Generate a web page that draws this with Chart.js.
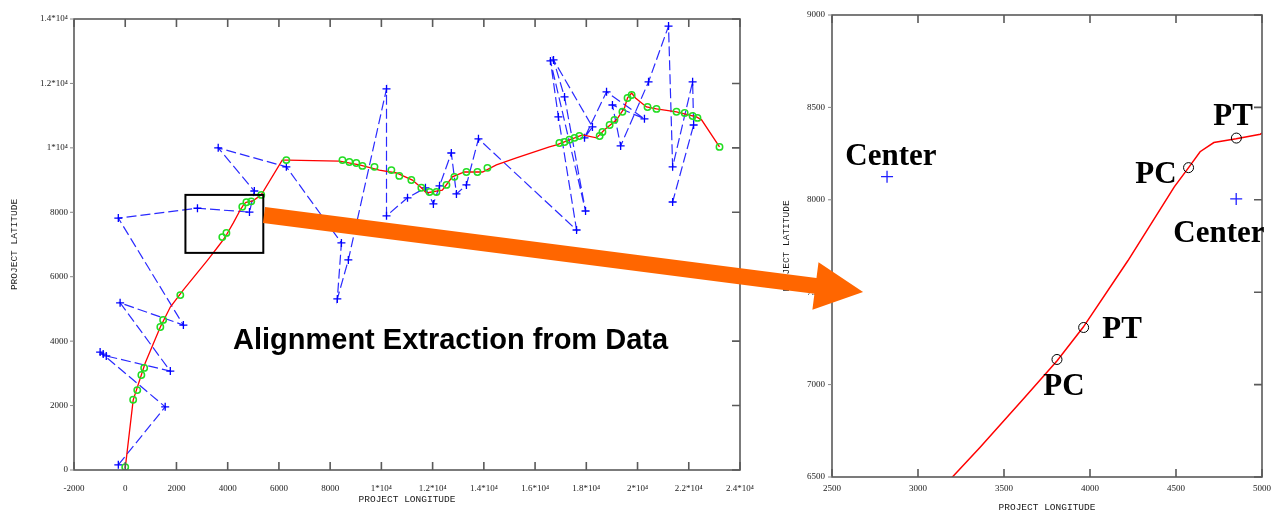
<!DOCTYPE html>
<html>
<head>
<meta charset="utf-8">
<title>Alignment Extraction from Data</title>
<script src="https://cdn.jsdelivr.net/npm/chart.js@4.4.1/dist/chart.umd.min.js"></script>
<style>
  html, body { margin: 0; padding: 0; background: #fff; }
  body { position: relative; width: 1276px; height: 513px; overflow: hidden; }
  #boxAll  { position: absolute; left: 0;     top: 0; }
  #boxZoom { position: absolute; left: 770px; top: 0; }
  #caption {
    position: absolute; left: 233px; top: 325px;
    font: bold 29px/29px 'Liberation Sans', Arial, sans-serif;
    color: #000; white-space: nowrap;
  }
  #arrow { position: absolute; left: 0; top: 0; pointer-events: none; }
</style>
</head>
<body>
<canvas id="boxAll" width="762" height="513"></canvas>
<canvas id="boxZoom" width="506" height="513"></canvas>
<div id="caption">Alignment Extraction from Data</div>
<svg id="arrow" width="1276" height="513">
  <g transform="translate(264,215) rotate(7.33)">
    <polygon points="0,-8 556,-8 556,-24 604,0 556,24 556,8 0,8" fill="#ff6600"/>
  </g>
</svg>

<script>
// ── raw survey points (blue +, dashed) ─────────────────────────────
const rawLon = [-270, 1560, -980, -860, -740, 1760, -200, 2270, -270, 2820, 4850, 5040,
                3630, 6290, 8440, 8280, 8710, 10200, 10200, 11020, 11720, 12030, 12270,
                12730, 12930, 13320, 13790, 17620, 16910, 16600, 17970, 17150, 16720,
                18240, 17930, 18790, 20270, 19020, 19340, 20430, 21210, 21370, 22150,
                22190, 21370];
const rawLat = [160, 1960, 3660, 3600, 3540, 3070, 5190, 4500, 7820, 8125, 8005, 8660,
                10000, 9410, 7050, 5310, 6520, 11830, 7890, 8450, 8760, 8260, 8820,
                9840, 8570, 8850, 10280, 7450, 10960, 12700, 8040, 11580, 12730,
                10650, 10310, 11740, 10900, 11330, 10060, 12050, 13780, 9410, 12050,
                10710, 8320];

// ── fitted alignment (red) ─────────────────────────────────────────
const fitLon = [0, 310, 780, 1370, 1760, 2270, 3200, 3360, 3620, 3810, 3960, 4220, 4490,
                4570, 4640, 4720, 4850, 4990, 5310, 6130, 6330, 8360, 9140, 9920, 10590,
                11210, 11560, 11760, 12150, 12380, 12770, 13240, 13950, 14490, 15270,
                16560, 16840, 17850, 18400, 18710, 19180, 19490, 19610, 19770, 19920,
                20350, 20740, 21520, 22300, 22500, 23200];
const fitLat = [60, 2170, 3320, 4440, 5060, 5590, 6500, 6660, 6930, 7130, 7310, 7670, 8070,
                8170, 8260, 8310, 8330, 8355, 8540, 9620, 9620, 9590, 9470, 9310, 9220,
                9000, 8760, 8600, 8660, 8690, 9100, 9250, 9250, 9470, 9690,
                10030, 10090, 10400, 10310, 10560, 10870, 11240, 11550, 11700, 11550,
                11270, 11210, 11120, 10960, 10870, 10030];

// ── points kept for the fit (green o) ──────────────────────────────
const keptLon = [0, 310, 470, 630, 740, 1370, 1480, 2150, 3790, 3950, 4570, 4730, 4920,
                 5310, 6290, 8480, 8750, 9020, 9260, 9730, 10390, 10700, 11170, 11560,
                 11880, 12150, 12540, 12850, 13320, 13750, 14140, 16950, 17150, 17340,
                 17540, 17730, 18520, 18630, 18910, 19100, 19410, 19610, 19770, 20390,
                 20740, 21520, 21840, 22150, 22340, 23200];
const keptLat = [90, 2180, 2480, 2950, 3170, 4440, 4660, 5430, 7230, 7360, 8170, 8310, 8340,
                 8540, 9620, 9620, 9560, 9530, 9440, 9410, 9310, 9130, 9000, 8760,
                 8630, 8630, 8850, 9100, 9250, 9250, 9380, 10150, 10180, 10250,
                 10310, 10370, 10370, 10490, 10710, 10870, 11120, 11550, 11640, 11270,
                 11210, 11120, 11080, 10990, 10930, 10030];

// ── zoom window: curve key points and circle centres ───────────────
const keyLon    = [3808, 3963, 4573, 4851];
const keyLat    = [7136, 7309, 8174, 8334];
const centerLon = [2820, 4850];
const centerLat = [8125, 8005];
const zoomLon   = [2350, 5390];
const zoomLat   = [6740, 8540];

// ── tick labels ────────────────────────────────────────────────────
const lonTicksAll  = ['-2000', '0', '2000', '4000', '6000', '8000', '1*10⁴', '1.2*10⁴',
                      '1.4*10⁴', '1.6*10⁴', '1.8*10⁴', '2*10⁴', '2.2*10⁴', '2.4*10⁴'];
const latTicksAll  = ['0', '2000', '4000', '6000', '8000', '1*10⁴', '1.2*10⁴', '1.4*10⁴'];
const lonTicksZoom = ['2500', '3000', '3500', '4000', '4500', '5000'];
const latTicksZoom = ['6500', '7000', '7500', '8000', '8500', '9000'];

// ── labels in the zoom window ──────────────────────────────────────
const noteText = ['Center', 'PC', 'PT', 'Center', 'PT', 'PC'];
const noteLon  = [2577, 4263, 4717, 4484, 4071, 3728];
const noteLat  = [8188, 8091, 8405, 7772, 7252, 6944];

const pts = (xs, ys) => xs.map((x, i) => ({ x, y: ys[i] }));

const TICK_FONT  = { family: "'Liberation Serif', 'DejaVu Serif', serif", size: 9 };
const TITLE_FONT = { family: "'Liberation Mono', 'DejaVu Sans Mono', monospace", size: 9.5 };

// Marco con marcas hacia dentro (estilo Mathcad)
const framePlugin = {
  id: 'frame',
  afterDraw(chart) {
    const { ctx, chartArea: a, scales: { x, y } } = chart;
    ctx.save();
    ctx.strokeStyle = '#5a5a5a';
    ctx.lineWidth = 1.6;
    ctx.strokeRect(a.left, a.top, a.right - a.left, a.bottom - a.top);
    ctx.beginPath();
    x.ticks.forEach(t => {
      const px = x.getPixelForValue(t.value);
      ctx.moveTo(px, a.bottom); ctx.lineTo(px, a.bottom - 8);
      ctx.moveTo(px, a.top);    ctx.lineTo(px, a.top + 8);
    });
    y.ticks.forEach(t => {
      const py = y.getPixelForValue(t.value);
      ctx.moveTo(a.right, py); ctx.lineTo(a.right - 8, py);
    });
    ctx.stroke();
    ctx.lineWidth = 1;
    ctx.strokeStyle = '#888';
    ctx.beginPath();
    y.ticks.forEach(t => {
      const py = y.getPixelForValue(t.value);
      ctx.moveTo(a.left, py); ctx.lineTo(a.left - 4, py);
    });
    ctx.stroke();
    ctx.restore();
  }
};

// Recuadro de la zona ampliada
const zoomBoxPlugin = {
  id: 'zoomBox',
  afterDatasetsDraw(chart) {
    const { ctx, scales: { x, y } } = chart;
    const x0 = x.getPixelForValue(zoomLon[0]), x1 = x.getPixelForValue(zoomLon[1]);
    const y0 = y.getPixelForValue(zoomLat[1]), y1 = y.getPixelForValue(zoomLat[0]);
    ctx.save();
    ctx.strokeStyle = '#000';
    ctx.lineWidth = 2;
    ctx.strokeRect(x0, y0, x1 - x0, y1 - y0);
    ctx.restore();
  }
};

// Rótulos PC / PT / Center
const notesPlugin = {
  id: 'notes',
  afterDraw(chart) {
    const { ctx, scales: { x, y } } = chart;
    ctx.save();
    ctx.font = "bold 31px 'Liberation Serif', 'Times New Roman', serif";
    ctx.fillStyle = '#000';
    ctx.textAlign = 'left';
    ctx.textBaseline = 'alphabetic';
    noteText.forEach((t, i) => ctx.fillText(t, x.getPixelForValue(noteLon[i]), y.getPixelForValue(noteLat[i])));
    ctx.restore();
  }
};

function axis(pos, min, max, step, labels, title, size, titlePad, tickPad) {
  const horiz = pos === 'bottom';
  return {
    type: 'linear', position: pos, min, max,
    grid: { display: false, drawTicks: false },
    border: { display: false },
    ticks: {
      stepSize: step, autoSkip: false, maxRotation: 0, minRotation: 0,
      padding: tickPad, color: '#1a1a1a', font: TICK_FONT,
      callback: (v, i) => labels[i]
    },
    title: { display: true, text: title, color: '#1a1a1a', font: TITLE_FONT, padding: titlePad },
    afterFit: s => {
      if (horiz) s.height = size; else s.width = size;
      s.paddingLeft = s.paddingRight = s.paddingTop = s.paddingBottom = 0;
    }
  };
}

const baseOpts = {
  responsive: false,
  animation: false,
  events: [],
  plugins: { legend: { display: false }, tooltip: { enabled: false } }
};

new Chart(document.getElementById('boxAll'), {
  type: 'scatter',
  data: {
    datasets: [
      {
        data: pts(keptLon, keptLat), order: 1, showLine: false,
        pointStyle: 'circle', pointRadius: 3.2, pointBorderWidth: 1.5,
        pointBorderColor: '#22dd22', pointBackgroundColor: 'rgba(0,0,0,0)'
      },
      {
        data: pts(fitLon, fitLat), order: 2, showLine: true,
        borderColor: '#ff0000', borderWidth: 1.3, pointRadius: 0
      },
      {
        data: pts(rawLon, rawLat), order: 3, showLine: true,
        borderColor: '#2a2aff', borderWidth: 1.2, borderDash: [10, 4],
        pointStyle: 'cross', pointRadius: 4, pointBorderWidth: 1.3, pointBorderColor: '#0000ff'
      }
    ]
  },
  options: {
    ...baseOpts,
    layout: { padding: { top: 19, right: 22, bottom: 0, left: 0 } },
    scales: {
      x: axis('bottom', -2000, 24000, 2000, lonTicksAll, 'PROJECT LONGITUDE', 43, { top: 0, bottom: 8 }, 13),
      y: axis('left', 0, 14000, 2000, latTicksAll, 'PROJECT LATITUDE', 74, { top: 9, bottom: 0 }, 6)
    }
  },
  plugins: [framePlugin, zoomBoxPlugin]
});

new Chart(document.getElementById('boxZoom'), {
  type: 'scatter',
  data: {
    datasets: [
      {
        data: pts(keyLon, keyLat), order: 1, showLine: false,
        pointStyle: 'circle', pointRadius: 5, pointBorderWidth: 1,
        pointBorderColor: '#000', pointBackgroundColor: 'rgba(0,0,0,0)'
      },
      {
        data: pts(centerLon, centerLat), order: 2, showLine: false,
        pointStyle: 'cross', pointRadius: 6, pointBorderWidth: 1.3, pointBorderColor: '#2020ff'
      },
      {
        data: pts(fitLon, fitLat), order: 3, showLine: true,
        borderColor: '#ff0000', borderWidth: 1.5, pointRadius: 0
      }
    ]
  },
  options: {
    ...baseOpts,
    layout: { padding: { top: 15, right: 14, bottom: 0, left: 0 } },
    scales: {
      x: axis('bottom', 2500, 5000, 500, lonTicksZoom, 'PROJECT LONGITUDE', 36, { top: 0, bottom: 0 }, 6),
      y: axis('left', 6500, 9000, 500, latTicksZoom, 'PROJECT LATITUDE', 62, { top: 11, bottom: 0 }, 7)
    }
  },
  plugins: [framePlugin, notesPlugin]
});
</script>
</body>
</html>
